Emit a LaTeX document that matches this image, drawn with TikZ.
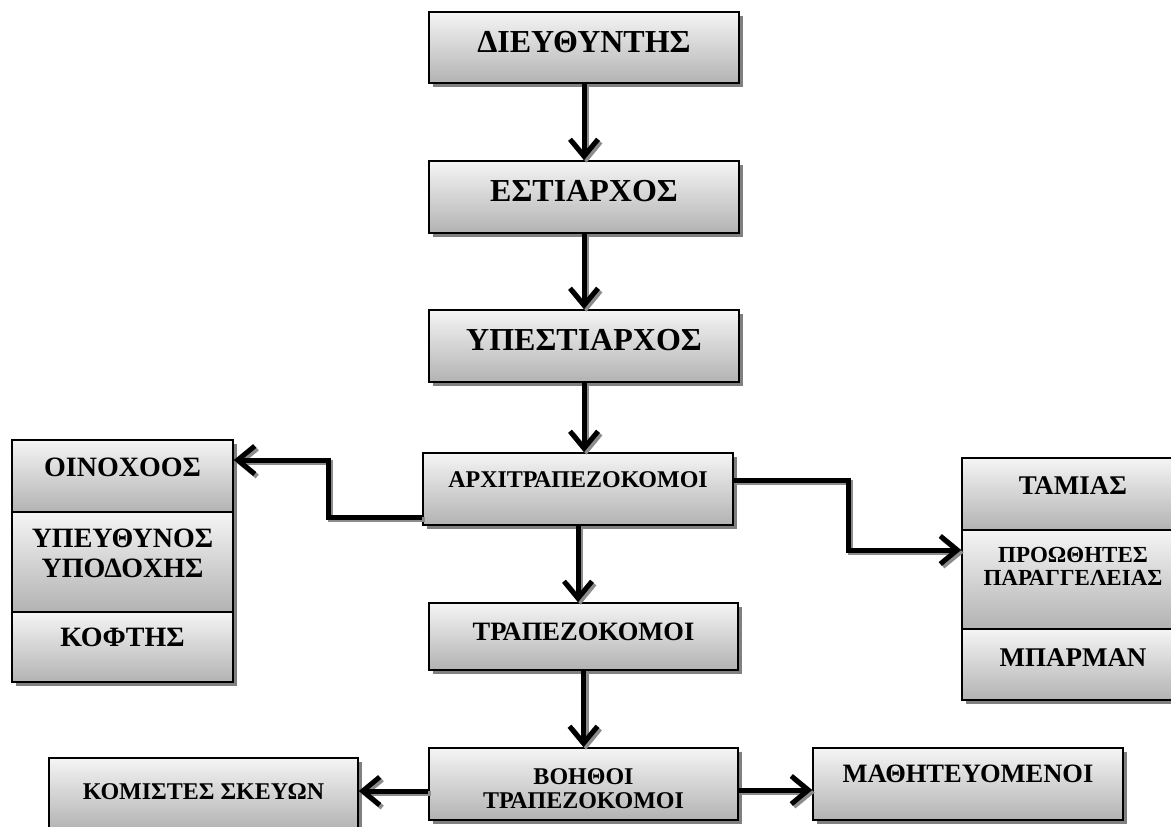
\documentclass[tikz,border=0pt]{standalone}
\usepackage{fontspec}
\setmainfont{Liberation Serif}
\usetikzlibrary{arrows.meta,shadows,calc}

\tikzset{
  box/.style={draw=black, line width=1.6pt, inner sep=0pt,
    top color=black!4, bottom color=black!30,
    drop shadow={shadow xshift=3.5pt, shadow yshift=-3.5pt, fill=black!50, opacity=1}},
  tx/.style args={#1/#2}{font=\bfseries\fontsize{#1}{#2}\selectfont, align=center, inner sep=0pt},
  connbase/.style={line width=5pt, line join=miter,
    -{Straight Barb[length=17pt,width=28pt]}},
  conn/.style={connbase, draw=black},
  connshade/.style={connbase, draw=black!45, transform canvas={shift={(2.5pt,-2.5pt)}}},
}
% a connector: grey offset copy underneath, black line on top
\newcommand\linkpath[1]{\draw[connshade] #1; \draw[conn] #1;}

\begin{document}
\begin{tikzpicture}[x=1pt,y=-1pt]
\useasboundingbox (0,0) rectangle (1171,827);

% main chain
\node[box, minimum width=310pt, minimum height=71pt,
  label={[tx=32/36, yshift=5pt]center:ΔΙΕΥΘΥΝΤΗΣ}] (dir) at (584,47.5) {};
\node[box, minimum width=310pt, minimum height=72pt,
  label={[tx=32/36, yshift=5.5pt]center:ΕΣΤΙΑΡΧΟΣ}] (est) at (584,197) {};
\node[box, minimum width=310pt, minimum height=72pt,
  label={[tx=32/36, yshift=6pt]center:ΥΠΕΣΤΙΑΡΧΟΣ}] (ypest) at (584,346) {};
\node[box, minimum width=310pt, minimum height=72pt,
  label={[tx=24/28, yshift=9pt]center:ΑΡΧΙΤΡΑΠΕΖΟΚΟΜΟΙ}] (arx) at (578,489) {};
\node[box, minimum width=309pt, minimum height=67pt,
  label={[tx=26.5/30, yshift=5pt]center:ΤΡΑΠΕΖΟΚΟΜΟΙ}] (trap) at (583.5,636.5) {};
\node[box, minimum width=309pt, minimum height=72pt,
  label={[tx=24/24, yshift=-5pt]center:{ΒΟΗΘΟΙ\\ΤΡΑΠΕΖΟΚΟΜΟΙ}}] (voith) at (583.5,784) {};

% bottom row
\node[box, minimum width=309pt, minimum height=72pt,
  label={[tx=24/28, yshift=2pt]center:ΚΟΜΙΣΤΕΣ ΣΚΕΥΩΝ}] (komist) at (203.5,794) {};
\node[box, minimum width=310pt, minimum height=72pt,
  label={[tx=26.5/30, yshift=10pt]center:ΜΑΘΗΤΕΥΟΜΕΝΟΙ}] (math) at (968,784) {};

% left column
\node[box, minimum width=221pt, minimum height=72pt,
  label={[tx=28/30, yshift=8.5pt]center:ΟΙΝΟΧΟΟΣ}] (oino) at (122.5,476) {};
\node[box, minimum width=221pt, minimum height=100pt,
  label={[tx=28/30, yshift=9pt]center:{ΥΠΕΥΘΥΝΟΣ\\ΥΠΟΔΟΧΗΣ}}] (ypod) at (122.5,562) {};
\node[box, minimum width=221pt, minimum height=70pt,
  label={[tx=28/30, yshift=9.5pt]center:ΚΟΦΤΗΣ}] (kof) at (122.5,647) {};

% right column (runs past the right edge)
\node[box, minimum width=222pt, minimum height=72pt,
  label={[tx=27/30, yshift=8pt]center:ΤΑΜΙΑΣ}] (tam) at (1073,494) {};
\node[box, minimum width=222pt, minimum height=99pt,
  label={[tx=23/23, yshift=13.5pt]center:{ΠΡΟΩΘΗΤΕΣ\\ΠΑΡΑΓΓΕΛΕΙΑΣ}}] (prow) at (1073,579.5) {};
\node[box, minimum width=222pt, minimum height=71pt,
  label={[tx=27/30, yshift=7pt]center:ΜΠΑΡΜΑΝ}] (bar) at (1073,664.5) {};

% elbow points
\coordinate (lk) at (328,460);
\coordinate (rk) at (848,550);

% connectors
\linkpath{(dir.south) -- (est.north)}
\linkpath{(est.south) -- (ypest.north)}
\linkpath{(ypest.south) -- (ypest.south |- arx.north)}
\linkpath{(arx.south) -- (arx.south |- trap.north)}
\linkpath{(trap.south) -- (trap.south |- voith.north)}
\linkpath{([yshift=-28pt]arx.west) -| (lk) -- (lk -| oino.east)}
\linkpath{([yshift=9pt]arx.east) -| (rk) -- (rk -| prow.west)}
\linkpath{([yshift=-7pt]voith.west) -- ([yshift=-7pt]voith.west -| komist.east)}
\linkpath{([yshift=-6pt]voith.east) -- ([yshift=-6pt]voith.east -| math.west)}
\end{tikzpicture}
\end{document}
